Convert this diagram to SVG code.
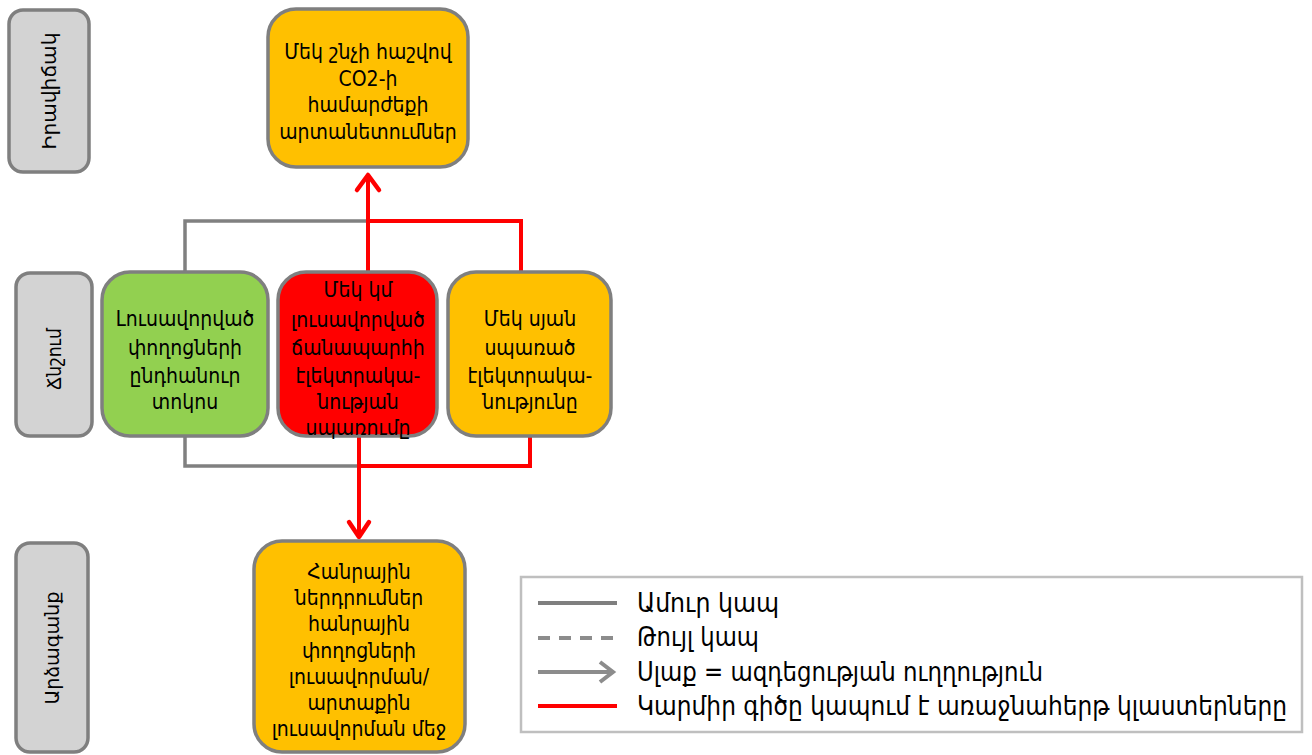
<svg xmlns="http://www.w3.org/2000/svg" width="1312" height="755" viewBox="0 0 1312 755">
<defs>
<style>
.lbl{fill:#D3D3D3;stroke:#7F7F7F;stroke-width:3.5}
.node{stroke:#7F7F7F;stroke-width:3.5}
.t{font-family:"DejaVu Sans Condensed","DejaVu Sans",sans-serif;font-size:21px;fill:#000;text-anchor:middle}
.lt{font-family:"DejaVu Sans Condensed","DejaVu Sans",sans-serif;font-size:20px;fill:#000;text-anchor:middle}
.gt{font-family:"DejaVu Sans Condensed","DejaVu Sans",sans-serif;font-size:26px;fill:#000}
.g{fill:none;stroke:#808080;stroke-width:3.5}
.r{fill:none;stroke:#FF0000;stroke-width:4}
.chev{fill:none;stroke:#FF0000;stroke-width:4.5;stroke-linecap:round;stroke-linejoin:round}
</style>
</defs>
<rect width="1312" height="755" fill="#FFFFFF"/>

<g id="label-iravichak">
<rect class="lbl" x="9" y="10" width="80" height="162" rx="14"/>
<text class="lt" transform="translate(49,91) rotate(-90)" dy="7" textLength="117" lengthAdjust="spacingAndGlyphs">Իրավիճակ</text>
</g>
<g id="label-chnshum">
<rect class="lbl" x="16" y="273" width="76" height="163" rx="14"/>
<text class="lt" transform="translate(54,359) rotate(-90)" dy="7" textLength="62" lengthAdjust="spacingAndGlyphs">Ճնշում</text>
</g>
<g id="label-arzagank">
<rect class="lbl" x="16" y="543" width="72" height="209" rx="14"/>
<text class="lt" transform="translate(52,648) rotate(-90)" dy="7" textLength="113" lengthAdjust="spacingAndGlyphs">Արձագանք</text>
</g>

<g id="connectors">
<polyline class="g" points="185,272 185,221 368,221"/>
<polyline class="r" points="368,221 521,221 521,272"/>
<line class="r" x1="368" y1="272" x2="368" y2="176"/>
<polyline class="chev" points="357,190 368,175 379,190"/>
<polyline class="g" points="185,436 185,466 359,466"/>
<polyline class="r" points="359,466 530,466 530,436"/>
<line class="r" x1="359" y1="436" x2="359" y2="537"/>
<polyline class="chev" points="349,522 359,537 369,522"/>
</g>

<g id="node-co2">
<rect class="node" x="268" y="9" width="200" height="158" rx="28" fill="#FFC000"/>
<text class="t" x="368" y="59">Մեկ շնչի հաշվով</text>
<text class="t" x="368" y="86">CO2-ի</text>
<text class="t" x="368" y="112">համարժեքի</text>
<text class="t" x="368" y="139">արտանետումներ</text>
</g>

<g id="node-green">
<rect class="node" x="102" y="272" width="166" height="164" rx="28" fill="#92D050"/>
<text class="t" x="185" y="326">Լուսավորված</text>
<text class="t" x="185" y="355">փողոցների</text>
<text class="t" x="185" y="383">ընդհանուր</text>
<text class="t" x="185" y="409">տոկոս</text>
</g>

<g id="node-red">
<rect class="node" x="278" y="272" width="159" height="164" rx="28" fill="#FF0000"/>
<text class="t" x="358" y="297">Մեկ կմ</text>
<text class="t" x="358" y="327">լուսավորված</text>
<text class="t" x="358" y="355">ճանապարհի</text>
<text class="t" x="358" y="383">էլեկտրակա-</text>
<text class="t" x="358" y="409">նության</text>
<text class="t" x="358" y="435">սպառումը</text>
</g>

<g id="node-orange">
<rect class="node" x="448" y="272" width="163" height="164" rx="28" fill="#FFC000"/>
<text class="t" x="530" y="326">Մեկ սյան</text>
<text class="t" x="530" y="355">սպառած</text>
<text class="t" x="530" y="383">էլեկտրակա-</text>
<text class="t" x="530" y="409">նությունը</text>
</g>

<g id="node-invest">
<rect class="node" x="254" y="541" width="211" height="211" rx="28" fill="#FFC000"/>
<text class="t" x="359" y="579">Հանրային</text>
<text class="t" x="359" y="605">ներդրումներ</text>
<text class="t" x="359" y="631">հանրային</text>
<text class="t" x="359" y="658">փողոցների</text>
<text class="t" x="359" y="684">լուսավորման/</text>
<text class="t" x="359" y="710">արտաքին</text>
<text class="t" x="359" y="736">լուսավորման մեջ</text>
</g>

<g id="legend">
<rect x="521" y="577" width="781" height="155" fill="#FFFFFF" stroke="#BFBFBF" stroke-width="2.5"/>
<line x1="538" y1="603" x2="617" y2="603" stroke="#7F7F7F" stroke-width="4"/>
<line x1="538" y1="638" x2="617" y2="638" stroke="#8C8C8C" stroke-width="4" stroke-dasharray="12,9"/>
<line x1="538" y1="672" x2="612" y2="672" stroke="#8C8C8C" stroke-width="4"/>
<path d="M600,662 L613,672 L600,682" fill="none" stroke="#8C8C8C" stroke-width="4"/>
<line x1="538" y1="706" x2="617" y2="706" stroke="#FF0000" stroke-width="4"/>
<text class="gt" x="637" y="612" textLength="142" lengthAdjust="spacingAndGlyphs">Ամուր կապ</text>
<text class="gt" x="637" y="646" textLength="122" lengthAdjust="spacingAndGlyphs">Թույլ կապ</text>
<text class="gt" x="637" y="681" textLength="406" lengthAdjust="spacingAndGlyphs">Սլաք = ազդեցության ուղղություն</text>
<text class="gt" x="637" y="715" textLength="650" lengthAdjust="spacingAndGlyphs">Կարմիր գիծը կապում է առաջնահերթ կլաստերները</text>
</g>
</svg>
